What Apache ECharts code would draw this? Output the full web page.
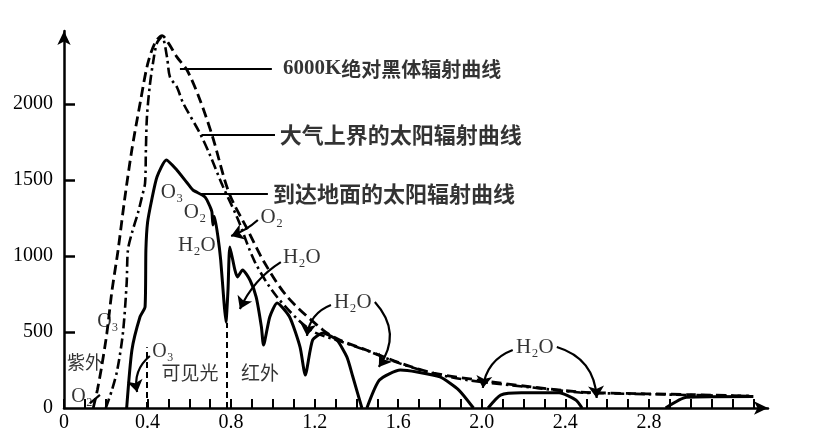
<!DOCTYPE html>
<html>
<head>
<meta charset="utf-8">
<script src="https://cdn.jsdelivr.net/npm/echarts@6/dist/echarts.min.js"></script>
<style>html,body{margin:0;padding:0;background:#fff}#c{width:818px;height:440px}</style>
</head>
<body>
<div id="c"></div>
<script>
// ---- data ----
// 6000K black-body curve (dashed)
const bbX = [0.14,0.16,0.18,0.205,0.23,0.258,0.29,0.325,0.365,0.40,0.435,0.47,0.50,0.54,0.59,0.65,0.71,0.79,0.88,0.96,1.07,1.24,1.32,1.45,1.61,1.77,1.98,2.24,2.47,2.58,3.0,3.28];
const bbY = [0,120,270,490,775,1030,1370,1700,2010,2260,2400,2450,2400,2310,2220,2030,1790,1415,1170,955,730,513,447,380,296,230,184,138,105,99,88,79];
// top-of-atmosphere solar curve (dash-dot)
const toaX = [0.20,0.23,0.255,0.282,0.30,0.306,0.325,0.354,0.373,0.388,0.392,0.397,0.41,0.426,0.445,0.469,0.493,0.507,0.54,0.57,0.65,0.70,0.76,0.83,0.914,1.02,1.18,1.32,1.45,1.61,1.77,1.95,2.24,2.47,2.58,3.28];
const toaY = [0,120,250,493,822,1039,1151,1283,1388,1480,1697,1914,2112,2270,2401,2441,2309,2178,2112,2007,1809,1660,1460,1250,960,730,513,440,378,292,226,180,135,102,97,78];
// solar radiation reaching the ground (solid), null = gap
const grX = [0.30,0.325,0.364,0.388,0.392,0.40,0.42,0.445,0.49,0.54,0.59,0.617,0.675,0.70,0.708,0.713,0.72,0.737,0.75,0.765,0.775,0.785,0.794,0.818,0.83,0.855,0.89,0.92,0.945,0.955,0.985,1.02,1.08,1.13,1.155,1.19,1.24,1.306,1.354,1.383,1.426,1.44,1.45,1.51,1.61,1.69,1.80,1.89,1.96,2.0,2.03,2.09,2.19,2.37,2.45,2.48,2.6,2.88,2.98,3.3];
const grY = [0,380,600,665,1040,1220,1370,1520,1632,1566,1480,1434,1388,1322,1290,1204,1260,1125,974,711,566,776,1059,908,862,908,842,730,533,414,599,691,599,401,217,447,493,447,336,204,0,null,0,184,250,237,204,118,0,null,0,85,100,100,53,0,null,0,70,75];
// axis ticks / labels
const xLabelValues = [0,0.4,0.8,1.2,1.6,2.0,2.4,2.8];
const yLabelValues = [0,500,1000,1500,2000];
const yTickValues = [500,1000,1500,2000];
const xTickValues = Array.from({length:34},(_,i)=>Math.round(i)/10);

const zip = (xs, ys) => xs.map((x,i)=>[x, ys[i]]);

// ---- annotations (data coordinates) ----
const serif = 'Liberation Serif, DejaVu Serif, serif';
const cjk = 'Noto Sans CJK SC, sans-serif';
const texts = [
  {v:[1.048,2230], t:'{a2|6000K}{b|绝对黑体辐射曲线}', left:true},
  {v:[1.033,1800], t:'{b2|大气上界的太阳辐射曲线}', left:true},
  {v:[1.000,1408], t:'{b2|到达地面的太阳辐射曲线}', left:true},
  {v:[0.517,1421], t:'{a|O₃}'},
  {v:[0.627,1283], t:'{a|O₂}'},
  {v:[0.995,1250], t:'{a|O₂}'},
  {v:[0.636,1072], t:'{a|H₂O}'},
  {v:[1.139,987], t:'{a|H₂O}'},
  {v:[1.383,697], t:'{a|H₂O}'},
  {v:[2.254,401], t:'{a|H₂O}'},
  {v:[0.100,303], t:'{c|紫外}'},
  {v:[0.086,72], t:'{s|O₂}'},
  {v:[0.210,566], t:'{s|O₃}'},
  {v:[0.474,368], t:'{s|O₃}'},
  {v:[0.603,230], t:'{c2|可见光}'},
  {v:[0.938,230], t:'{c2|红外}'}
];
const rich = {
  a:{fontFamily:serif, fontSize:21, color:'#000'},
  a2:{fontFamily:serif, fontSize:21, color:'#000', fontWeight:'bold'},
  s:{fontFamily:serif, fontSize:20, color:'#000'},
  b:{fontFamily:cjk, fontSize:20, color:'#000', fontWeight:'bold'},
  b2:{fontFamily:cjk, fontSize:22, color:'#000', fontWeight:'bold'},
  c:{fontFamily:cjk, fontSize:18, color:'#000'},
  c2:{fontFamily:cjk, fontSize:19, color:'#000'}
};
const leaders = [
  [[0.555,2230],[0.995,2230]],
  [[0.66,1800],[1.01,1800]],
  [[0.65,1408],[0.976,1408]],
  [[0.124,30],[0.172,86]]
];
const separators = [
  [[0.395,0],[0.395,400]],
  [[0.78,0],[0.78,560]]
];
const arrows = [
  {c:[[0.928,1237],[0.80,1132]], k:0.1},
  {c:[[1.038,960],[0.842,651]], k:-0.15},
  {c:[[1.278,678],[1.163,474]], k:-0.3},
  {c:[[1.488,697],[1.507,270]], k:0.4},
  {c:[[2.148,382],[2.005,132]], k:-0.3},
  {c:[[2.359,401],[2.55,66]], k:0.35},
  {c:[[0.411,342],[0.35,105]], k:-0.3}
];

const chart = echarts.init(document.getElementById('c'), null, {renderer:'canvas'});
const axisCommon = {
  axisLine:{show:true, lineStyle:{color:'#000', width:2.5}, symbol:['none','arrow'], symbolSize:[10,14]},
  splitLine:{show:false}
};
chart.setOption({
  animation:false,
  backgroundColor:'#fff',
  grid:{left:64, right:50, top:31, bottom:32, containLabel:false},
  xAxis:Object.assign({}, axisCommon, {
    type:'value', min:0, max:3.37,
    axisTick:{show:true, inside:true, length:9, lineStyle:{color:'#000', width:2}, customValues:xTickValues},
    axisLabel:{customValues:xLabelValues, formatter:v=> v===0 ? '0' : v.toFixed(1), fontFamily:serif, fontSize:20, color:'#000', margin:5}
  }),
  yAxis:Object.assign({}, axisCommon, {
    type:'value', min:0, max:2480,
    axisTick:{show:true, inside:true, length:11, lineStyle:{color:'#000', width:2.5}, customValues:yTickValues},
    axisLabel:{customValues:yLabelValues, formatter:v=>String(v), fontFamily:serif, fontSize:20, color:'#000', margin:11}
  }),
  series:[
    {type:'line', name:'6000K', data:zip(bbX,bbY), showSymbol:false, smooth:0.3, silent:true,
     lineStyle:{color:'#000', width:2.8, type:[10,5]}},
    {type:'line', name:'TOA', data:zip(toaX,toaY), showSymbol:false, smooth:0.3, silent:true,
     lineStyle:{color:'#000', width:2.6, type:[10,4,2.5,4]}},
    {type:'line', name:'ground', data:zip(grX,grY), showSymbol:false, smooth:0.2, connectNulls:false, silent:true,
     lineStyle:{color:'#000', width:3}},
    {type:'lines', coordinateSystem:'cartesian2d', silent:true, symbol:['none','none'],
     lineStyle:{color:'#000', width:2.2, opacity:1},
     data:leaders.map(c=>({coords:c}))},
    {type:'lines', coordinateSystem:'cartesian2d', silent:true, symbol:['none','none'],
     lineStyle:{color:'#000', width:2, type:[6,4], opacity:1},
     data:separators.map(c=>({coords:c}))},
    {type:'lines', coordinateSystem:'cartesian2d', silent:true, symbol:['none','arrow'], symbolSize:[9,12],
     lineStyle:{color:'#000', width:2.2, opacity:1},
     data:arrows.map(a=>({coords:a.c, lineStyle:{curveness:a.k}}))},
    {type:'scatter', silent:true, symbolSize:0,
     data:texts.map(o=>({value:o.v, label:{show:true, formatter:o.t, rich:rich,
        position:o.left?'right':'inside', distance:0, align:o.left?'left':'center', verticalAlign:'middle'}}))}
  ]
});
</script>
</body>
</html>
